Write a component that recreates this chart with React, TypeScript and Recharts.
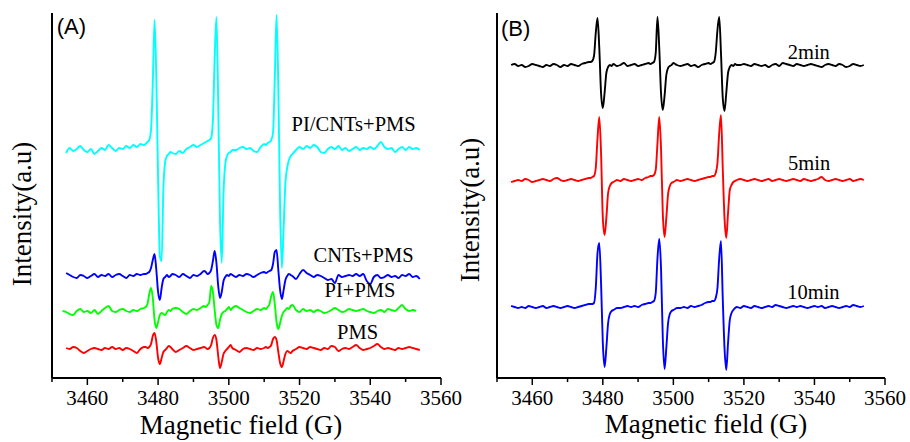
import { Line, LineChart, ReferenceDot, XAxis, YAxis } from "recharts";

const SERIF = '"Liberation Serif", "Times New Roman", serif';
const SANS = '"Liberation Sans", Arial, sans-serif';

// magnetic field (G), finer steps around the three lines
const FIELD_B = [
  3454, 3455, 3456, 3457, 3458, 3459, 3460, 3461, 3462, 3463, 3464, 3465, 3466, 3467, 3468, 3469, 3470, 3471, 3472, 3473, 3474, 3475, 3476,
  3476.5, 3477, 3477.5, 3478, 3478.5, 3479, 3479.5, 3480, 3480.5, 3481, 3481.5, 3482, 3482.5, 3483, 3483.5, 3484,
  3485, 3486, 3487, 3488, 3489, 3490, 3491, 3492, 3493,
  3493.5, 3494, 3494.5, 3495, 3495.5, 3496, 3496.5, 3497, 3497.5, 3498, 3498.5, 3499, 3499.5, 3500, 3500.5, 3501,
  3502, 3503, 3504, 3505, 3506, 3507, 3508, 3509, 3510,
  3510.5, 3511, 3511.5, 3512, 3512.5, 3513, 3513.5, 3514, 3514.5, 3515, 3515.5, 3516, 3516.5, 3517, 3517.5, 3518,
  3519, 3520, 3521, 3522, 3523, 3524, 3525, 3526, 3527, 3528, 3529, 3530, 3531, 3532, 3533, 3534, 3535, 3536,
  3537, 3538, 3539, 3540, 3541, 3542, 3543, 3544, 3545, 3546, 3547, 3548, 3549, 3550, 3551, 3552, 3553, 3554,
];
const FIELD_A = [3453, ...FIELD_B];

// panel A (offset intensities, a.u.)
const PI_CNTS_PMS = [
  null,
  225, 230, 227, 229, 232, 228, 226, 229, 224, 227, 230, 228, 233, 230, 227, 230, 229, 232, 230, 233, 231, 234, 233,
  234, 236, 238, 248, 295, 358, 300, 200, 122, 117, 190, 216, 222, 224, 226, 225,
  224, 227, 225, 229, 231, 233, 231, 233, 235,
  236, 237, 238, 240, 258, 320, 361, 275, 160, 115, 185, 214, 222, 225, 226, 228,
  228, 230, 231, 229, 230, 227, 226, 231, 234,
  233, 235, 236, 238, 245, 300, 363, 290, 170, 110, 150, 195, 210, 218, 222, 224,
  228, 231, 229, 232, 230, 233, 231, 226, 225, 229, 231, 229, 232, 228, 230, 227, 229, 231,
  228, 230, 229, 231, 229, 232, 236, 231, 229, 230, 226, 229, 231, 228, 231, 229, 230, 228,
];
const CNTS_PMS = [
  null,
  105, 103, 101, 100, 103, 102, 100, 102, 104, 101, 103, 102, 104, 101, 103, 104, 102, 100, 103, 102, 104, 103, 104,
  104, 105, 106, 110, 118, 124, 108, 86, 78, 90, 99, 101, 103, 101, 102, 104,
  103, 101, 104, 102, 100, 103, 102, 104, 107,
  106, 104, 105, 108, 117, 127, 115, 92, 80, 86, 97, 101, 103, 102, 104, 103,
  101, 103, 102, 104, 103, 101, 103, 105, 106,
  105, 106, 107, 108, 114, 126, 128, 108, 88, 79, 88, 98, 102, 104, 103, 102,
  99, 104, 108, 105, 103, 101, 103, 102, 100, 98, 99, 95, 103, 101, 102, 103, 102, 104,
  102, 104, 97, 94, 101, 103, 100, 101, 103, 101, 102, 100, 103, 102, 104, 101, 102, 99,
];
const PI_PMS = [
  67,
  66, 64, 63, 67, 69, 66, 67, 65, 68, 64, 67, 70, 72, 67, 66, 68, 69, 67, 66, 68, 67, 69, 70,
  71, 74, 84, 90, 80, 58, 50, 56, 63, 65, 64, 63, 66, 68, 67, 69,
  70, 69, 66, 64, 67, 69, 68, 70, 72,
  71, 73, 76, 92, 86, 68, 53, 50, 58, 64, 66, 67, 69, 71, 68, 70,
  72, 70, 68, 66, 65, 67, 69, 68, 70,
  69, 71, 74, 82, 86, 74, 56, 49, 55, 62, 66, 68, 70, 69, 72, 73,
  68, 66, 69, 67, 68, 66, 68, 67, 65, 66, 68, 70, 68, 66, 67, 69, 68, 67,
  68, 69, 67, 66, 65, 67, 68, 66, 69, 68, 67, 70, 73, 69, 67, 68, 67, null,
];
const PMS = [
  null,
  30, 29, 31, 30, 27, 25, 27, 29, 30, 29, 28, 30, 29, 31, 29, 30, 28, 30, 29, 27, 25, 29, 31,
  31, 30, 31, 34, 42, 45, 36, 20, 14, 20, 26, 28, 30, 32, 31, 29,
  26, 28, 30, 32, 30, 28, 29, 30, 31,
  30, 29, 30, 33, 40, 43, 38, 22, 10, 16, 24, 27, 29, 31, 33, 30,
  28, 26, 29, 30, 29, 28, 30, 29, 30,
  31, 30, 31, 33, 39, 41, 38, 26, 15, 11, 17, 24, 27, 26, 25, 27,
  29, 31, 30, 29, 31, 30, 29, 28, 30, 29, 32, 31, 27, 29, 30, 29, 31, 33,
  30, 28, 29, 30, 32, 34, 31, 29, 30, 29, 28, 30, 29, 30, 31, 30, 29, 28,
];

// panel B
const MIN_2 = [
  313, 314, 312, 313, 311, 312, 314, 313, 312, 311, 313, 312, 314, 313, 311, 313, 312, 314, 313, 312, 314, 315, 316,
  316, 317, 322, 345, 360, 330, 285, 270, 285, 305, 311, 313, 312, 314, 313, 312,
  313, 315, 312, 313, 314, 312, 313, 314, 315,
  314, 315, 316, 325, 361, 330, 285, 268, 282, 303, 310, 312, 313, 315, 314, 313,
  312, 313, 314, 312, 313, 311, 313, 314, 315,
  314, 315, 316, 325, 348, 361, 325, 280, 267, 285, 305, 311, 313, 312, 314, 313,
  313, 314, 313, 312, 314, 313, 312, 313, 311, 313, 314, 312, 315, 314, 313, 312, 314, 313,
  312, 313, 314, 313, 312, 311, 313, 314, 313, 312, 314, 313, 311, 312, 314, 313, 312, 313,
];
const MIN_5 = [
  196, 197, 198, 197, 199, 198, 196, 197, 198, 199, 198, 197, 199, 200, 198, 197, 198, 199, 198, 197, 198, 199, 200,
  200, 201, 202, 210, 240, 261, 225, 160, 143, 160, 185, 192, 195, 196, 197, 198,
  197, 199, 198, 197, 198, 199, 198, 200, 201,
  202, 202, 203, 208, 235, 261, 230, 165, 141, 160, 184, 192, 195, 196, 197, 198,
  197, 198, 199, 198, 197, 198, 199, 200, 201,
  201, 202, 202, 205, 215, 245, 263, 210, 160, 140, 165, 188, 193, 196, 197, 198,
  199, 198, 197, 198, 199, 198, 197, 198, 199, 197, 198, 199, 198, 197, 198, 199, 198, 197,
  199, 198, 197, 198, 199, 201, 198, 197, 198, 199, 198, 197, 198, 199, 197, 198, 199, 198,
];
const MIN_10 = [
  72, 71, 70, 71, 70, 72, 71, 70, 71, 72, 70, 71, 72, 71, 70, 71, 72, 71, 70, 71, 72, 73, 74,
  74, 74, 75, 90, 125, 135, 95, 35, 11, 30, 55, 64, 67, 68, 69, 70,
  70, 71, 72, 71, 72, 71, 73, 74, 75,
  75, 76, 77, 85, 120, 139, 110, 40, 9, 30, 55, 64, 67, 68, 69, 70,
  70, 71, 70, 72, 71, 72, 73, 75, 76,
  76, 77, 77, 80, 90, 120, 137, 80, 30, 8, 35, 58, 65, 68, 70, 71,
  70, 72, 71, 70, 72, 71, 70, 71, 72, 71, 73, 72, 71, 70, 71, 72, 71, 72,
  71, 70, 71, 72, 71, 72, 70, 71, 72, 71, 70, 71, 72, 71, 73, 72, 71, 72,
];

const FIELD_TICKS = [3450, 3460, 3470, 3480, 3490, 3500, 3510, 3520, 3530, 3540, 3550, 3560];
const INTENSITY_TICKS_A = [21, 48, 75, 102, 129, 156, 183, 210, 237, 264, 291, 318, 345];
const INTENSITY_TICKS_B = [26, 52, 78, 104, 130, 156, 182, 208, 234, 260, 286, 312, 338, 364];

const SERIES_A = [
  { key: "pms", values: PMS, color: "#ff0000" },
  { key: "piPms", values: PI_PMS, color: "#00ff00" },
  { key: "cntsPms", values: CNTS_PMS, color: "#0000ff" },
  { key: "piCntsPms", values: PI_CNTS_PMS, color: "#00ffff" },
];
const SERIES_B = [
  { key: "min2", values: MIN_2, color: "#000000" },
  { key: "min5", values: MIN_5, color: "#ff0000" },
  { key: "min10", values: MIN_10, color: "#0000ff" },
];

const LABELS_A = [
  { text: "PI/CNTs+PMS", field: 3535.3, value: 254 },
  { text: "CNTs+PMS", field: 3538.1, value: 123 },
  { text: "PI+PMS", field: 3537.1, value: 88 },
  { text: "PMS", field: 3536.4, value: 46 },
];
const LABELS_B = [
  { text: "2min", field: 3538.4, value: 326 },
  { text: "5min", field: 3538.5, value: 215 },
  { text: "10min", field: 3539.7, value: 86 },
];

type Series = { key: string; values: (number | null)[]; color: string };

function toRows(field: number[], series: Series[]) {
  return field.map((g, i) => {
    const row: Record<string, number | null> = { field: g };
    series.forEach((s) => {
      row[s.key] = s.values[i];
    });
    return row;
  });
}

const ROWS_A = toRows(FIELD_A, SERIES_A);
const ROWS_B = toRows(FIELD_B, SERIES_B);

const Y_AXIS_W = 20;

function FieldTick(props: any) {
  const { x, y, payload } = props;
  const major = payload.value % 20 === 0;
  return (
    <g>
      <line x1={x} x2={x} y1={y} y2={y + (major ? 7 : 4)} stroke="#000" strokeWidth={1.5} />
      {major && (
        <text x={x} y={y + 27} textAnchor="middle" fontFamily={SERIF} fontSize={21} fill="#000">
          {payload.value}
        </text>
      )}
    </g>
  );
}

function Title(props: any) {
  const { tx, ty, text, vertical } = props;
  return (
    <text
      x={tx}
      y={ty}
      textAnchor="middle"
      fontFamily={SERIF}
      fontSize={27}
      fill="#000"
      transform={vertical ? `rotate(-90, ${tx}, ${ty})` : undefined}
    >
      {text}
    </text>
  );
}

type PanelProps = {
  rows: Record<string, number | null>[];
  series: Series[];
  labels: { text: string; field: number; value: number }[];
  letter: { text: string; field: number; value: number };
  yTicks: number[];
  width: number;
  plotLeft: number;
  marginRight: number;
  xTitle: { x: number; y: number };
  yTitle: { x: number; y: number };
};

function Panel({ rows, series, labels, letter, yTicks, width, plotLeft, marginRight, xTitle, yTitle }: PanelProps) {
  return (
    <LineChart
      width={width}
      height={442}
      data={rows}
      margin={{ top: 13, right: marginRight, bottom: 0, left: plotLeft - Y_AXIS_W }}
    >
      <XAxis
        dataKey="field"
        type="number"
        domain={[3450, 3560]}
        ticks={FIELD_TICKS}
        interval={0}
        allowDataOverflow
        height={64}
        tickSize={0}
        tickMargin={0}
        tickLine={false}
        tick={<FieldTick />}
        axisLine={{ stroke: "#000", strokeWidth: 2 }}
        label={<Title tx={xTitle.x} ty={xTitle.y} text="Magnetic field (G)" />}
      />
      <YAxis
        type="number"
        domain={[0, 365]}
        ticks={yTicks}
        interval={0}
        allowDataOverflow
        width={Y_AXIS_W}
        tick={false}
        tickSize={-3}
        tickLine={{ stroke: "#000", strokeWidth: 1.2 }}
        axisLine={{ stroke: "#000", strokeWidth: 2 }}
        label={<Title tx={yTitle.x} ty={yTitle.y} text="Intensity(a.u)" vertical />}
      />
      {series.map((s) => (
        <Line
          key={s.key}
          type="monotone"
          dataKey={s.key}
          stroke={s.color}
          strokeWidth={1.9}
          dot={false}
          activeDot={false}
          isAnimationActive={false}
        />
      ))}
      {labels.map((l) => (
        <ReferenceDot
          key={l.text}
          x={l.field}
          y={l.value}
          r={1}
          fill="none"
          stroke="none"
          label={{ value: l.text, position: "center", fontFamily: SERIF, fontSize: 20.5, fill: "#000" }}
        />
      ))}
      <ReferenceDot
        x={letter.field}
        y={letter.value}
        r={1}
        fill="none"
        stroke="none"
        label={{ value: letter.text, position: "center", fontFamily: SANS, fontSize: 22, fill: "#000" }}
      />
    </LineChart>
  );
}

export default function App() {
  return (
    <div style={{ position: "fixed", left: 0, top: 0, width: 910, height: 442, background: "#fff" }}>
      <div style={{ position: "absolute", left: 0, top: 0 }}>
        <Panel
          rows={ROWS_A}
          series={SERIES_A}
          labels={LABELS_A}
          letter={{ text: "(A)", field: 3455.5, value: 352 }}
          yTicks={INTENSITY_TICKS_A}
          width={470}
          plotLeft={52}
          marginRight={29}
          xTitle={{ x: 241, y: 434 }}
          yTitle={{ x: 31, y: 214 }}
        />
      </div>
      <div style={{ position: "absolute", left: 455, top: 0 }}>
        <Panel
          rows={ROWS_B}
          series={SERIES_B}
          labels={LABELS_B}
          letter={{ text: "(B)", field: 3455.3, value: 350 }}
          yTicks={INTENSITY_TICKS_B}
          width={455}
          plotLeft={42}
          marginRight={25}
          xTitle={{ x: 251, y: 433 }}
          yTitle={{ x: 24, y: 210 }}
        />
      </div>
    </div>
  );
}
